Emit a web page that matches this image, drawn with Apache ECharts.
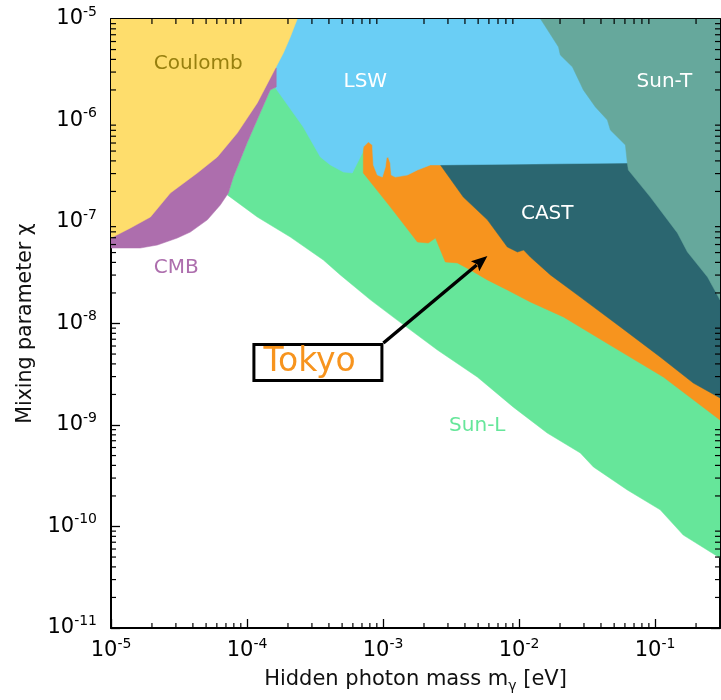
<!DOCTYPE html>
<html><head><meta charset="utf-8">
<script src="https://cdn.jsdelivr.net/npm/echarts@6/dist/echarts.min.js"></script>
<style>html,body{margin:0;padding:0;background:#fff}#c{width:721px;height:700px}</style>
</head><body><div id="c"></div>
<script>
// ---- Data: region boundaries as [hidden photon mass (eV), mixing parameter chi] ----
const sunL = [
  [7.16e-5,1.85e-7],[1.19e-4,1.12e-7],[2.08e-4,7.11e-8],[3.64e-4,4.22e-8],[4.85e-4,3.01e-8],
  [8.07e-4,1.71e-8],[1.27e-3,1.08e-8],[2.51e-3,5.48e-9],[4.93e-3,2.97e-9],[9.08e-3,1.50e-9],
  [1.61e-2,8.34e-10],[2.82e-2,5.30e-10],[3.52e-2,3.86e-10],[6.25e-2,2.29e-10],[1.09e-1,1.46e-10],
  [1.61e-1,8.24e-11],[0.3,4.9e-11],[0.3,1e-5],[1.64e-4,1e-5],[1.64e-4,2.14e-6],[1.48e-4,2.0e-6],
  [1.25e-4,1.19e-6],[1.0e-4,6.0e-7],[7.93e-5,2.77e-7],[7.29e-5,1.93e-7]
];
const tokyo = [
  [7.16e-4,6.43e-7],[7.16e-4,3.04e-7],[1.13e-3,1.41e-7],[1.79e-3,6.35e-8],[2.15e-3,6.21e-8],
  [2.43e-3,6.95e-8],[2.64e-3,5.30e-8],[2.87e-3,4.04e-8],[3.52e-3,3.95e-8],[4.39e-3,3.37e-8],
  [5.85e-3,2.69e-8],[8.20e-3,2.14e-8],[1.21e-2,1.63e-8],[2.12e-2,1.16e-8],[4.93e-2,5.86e-9],
  [1.15e-1,2.97e-9],[0.3,1.12e-9],[0.3,6.43e-7]
];
const cast = [
  [2.64e-3,3.9e-7],[2.64e-3,3.65e-7],[3.89e-3,1.76e-7],[5.85e-3,1.05e-7],[8.20e-3,5.67e-8],
  [9.73e-3,5.06e-8],[1.08e-2,5.30e-8],[1.21e-2,4.52e-8],[1.70e-2,3.01e-8],[2.82e-2,1.82e-8],
  [5.56e-2,9.24e-9],[1.09e-1,4.68e-9],[1.91e-1,2.59e-9],[0.3,1.85e-9],[0.3,3.9e-7]
];
const lsw = [
  [1.62e-4,1e-5],[0.3,1e-5],[0.3,3.81e-7],[6.25e-2,3.81e-7],[2.64e-3,3.65e-7],[2.23e-3,3.65e-7],
  [1.79e-3,3.25e-7],[1.51e-3,2.90e-7],[1.23e-3,2.77e-7],[1.15e-3,2.90e-7],[1.13e-3,3.81e-7],
  [1.09e-3,4.37e-7],[1.06e-3,4.27e-7],[1.04e-3,3.48e-7],[9.88e-4,2.77e-7],[9.08e-4,2.90e-7],
  [8.49e-4,3.65e-7],[8.34e-4,5.74e-7],[7.80e-4,6.14e-7],[7.16e-4,5.48e-7],[7.05e-4,4.79e-7],
  [6.47e-4,3.81e-7],[5.94e-4,3.04e-7],[5.11e-4,3.11e-7],[4.10e-4,3.65e-7],[3.46e-4,4.37e-7],
  [2.59e-4,8.63e-7],[1.62e-4,2.09e-6]
];
const sunT = [
  [1.44e-2,1e-5],[1.95e-2,5.30e-6],[2.01e-2,4.42e-6],[2.47e-2,3.37e-6],[2.97e-2,2.0e-6],
  [3.64e-2,1.36e-6],[4.46e-2,1.01e-6],[4.69e-2,8.06e-7],[6.05e-2,5.74e-7],[6.25e-2,3.81e-7],
  [6.36e-2,3.25e-7],[9.23e-2,1.76e-7],[1.46e-1,7.80e-8],[1.73e-1,5.06e-8],[2.43e-1,2.87e-8],
  [0.3,1.71e-8],[0.3,1e-5]
];
const cmb = [
  [1e-5,5.54e-8],[1.64e-5,5.54e-8],[2.19e-5,5.93e-8],[3.07e-5,6.95e-8],[3.83e-5,7.96e-8],
  [5.11e-5,1.05e-7],[6.36e-5,1.47e-7],[7.29e-5,1.93e-7],[7.93e-5,2.77e-7],[1.0e-4,6.0e-7],
  [1.25e-4,1.19e-6],[1.48e-4,2.0e-6],[1.64e-4,2.14e-6],[1.64e-4,3.29e-6],[1e-5,3.29e-6]
];
const coulomb = [
  [1e-5,1e-5],[2.34e-4,1e-5],[2.08e-4,6.65e-6],[1.85e-4,4.62e-6],[1.62e-4,3.29e-6],
  [1.19e-4,1.49e-6],[8.48e-5,7.53e-7],[6.05e-5,4.37e-7],[4.31e-5,3.04e-7],[2.73e-5,1.93e-7],
  [1.95e-5,1.12e-7],[1.39e-5,8.73e-8],[1e-5,6.95e-8]
];
const regionNames = ['Coulomb','LSW','Sun-T','CAST','CMB','Sun-L'];
const annotationText = 'Tokyo';
const minorMultipliers = [2,3,4,5,6,7,8,9];
const xDecades = [-5,-4,-3,-2,-1];
const yDecades = [-11,-10,-9,-8,-7,-6];

// ---- Layout / style (kept separate from data) ----
const FONT = 'DejaVu Sans';
const X_MIN = 1e-5, X_MAX = 0.3, Y_MIN = 1e-11, Y_MAX = 1e-5;
const COLORS = {
  sunL:'#66e69a', tokyo:'#f7941e', cast:'#2b6670', lsw:'#6acef5',
  sunT:'#66a89c', cmb:'#ad6ead', coulomb:'#fedd6c'
};
const labelPlacement = {
  'Coulomb':{at:[4.38e-5,3.60e-6], color:'#977f0e'},
  'LSW':{at:[7.41e-4,2.39e-6], color:'#ffffff'},
  'Sun-T':{at:[1.17e-1,2.39e-6], color:'#ffffff'},
  'CAST':{at:[1.61e-2,1.20e-7], color:'#ffffff'},
  'CMB':{at:[3.02e-5,3.52e-8], color:'#ad6ead'},
  'Sun-L':{at:[4.93e-3,9.77e-10], color:'#66e69a'}
};
const notePlacement = { boxCenter:[3.32e-4,4.13e-9], arrowTip:[5.85e-3,4.62e-8] };

function polygonSeries(name, pts, color) {
  return {
    type:'custom', name, silent:true, clip:true, coordinateSystem:'cartesian2d',
    data: pts, encode:{x:0, y:1},
    renderItem(params, api) {
      if (params.dataIndex !== 0) return null;
      return { type:'polygon', shape:{ points: pts.map(p => api.coord(p)) },
               style:{ fill:color, stroke:color, lineWidth:0.5 } };
    }
  };
}

const xMinor = [];
xDecades.forEach(d => minorMultipliers.forEach(k => { const v = k*Math.pow(10,d); if (v < X_MAX*0.999) xMinor.push(v); }));
const yMinor = [];
yDecades.forEach(d => minorMultipliers.forEach(k => yMinor.push(k*Math.pow(10,d))));

const supFmt = v => '{b|10}{e|' + Math.round(Math.log10(v)) + '}';
const richLab = {
  b:{fontSize:21, fontFamily:FONT, color:'#000', lineHeight:28},
  e:{fontSize:14, fontFamily:FONT, color:'#000', lineHeight:13, verticalAlign:'top'}
};
const axisCommon = {
  type:'log', logBase:10,
  axisLine:{show:true, onZero:false, lineStyle:{color:'#000', width:2}},
  axisTick:{show:true, inside:true, length:9, lineStyle:{color:'#000', width:1.3}},
  splitLine:{show:false}
};

const chart = echarts.init(document.getElementById('c'), null, {renderer:'canvas'});
const option = {
  animation:false,
  backgroundColor:'#fff',
  grid:{left:111, right:1, top:19, bottom:72, containLabel:false, outerBoundsMode:'none'},
  xAxis:[
    Object.assign({}, axisCommon, {
      min:X_MIN, max:X_MAX, position:'bottom',
      axisLabel:{formatter:supFmt, rich:richLab, margin:9, showMaxLabel:false},
      name:'{a|Hidden photon mass m}{s|γ}{a| [eV]}', nameLocation:'middle', nameGap:39,
      nameTextStyle:{rich:{
        a:{fontSize:21, fontFamily:FONT, color:'#111', lineHeight:26},
        s:{fontSize:14, fontFamily:FONT, color:'#111', lineHeight:12, verticalAlign:'bottom'}
      }}
    }),
    Object.assign({}, axisCommon, {min:X_MIN, max:X_MAX, position:'top', axisLabel:{show:false}})
  ],
  yAxis:[
    Object.assign({}, axisCommon, {
      min:Y_MIN, max:Y_MAX, position:'left',
      axisLabel:{formatter:supFmt, rich:richLab, margin:14},
      name:'Mixing parameter χ', nameLocation:'middle', nameGap:75, nameRotate:90,
      nameTextStyle:{fontSize:20.5, fontFamily:FONT, color:'#111'}
    }),
    Object.assign({}, axisCommon, {min:Y_MIN, max:Y_MAX, position:'right', axisLabel:{show:false}})
  ],
  series:[
    polygonSeries('Sun-L', sunL, COLORS.sunL),
    polygonSeries('Tokyo', tokyo, COLORS.tokyo),
    polygonSeries('CAST', cast, COLORS.cast),
    polygonSeries('LSW', lsw, COLORS.lsw),
    polygonSeries('Sun-T', sunT, COLORS.sunT),
    polygonSeries('CMB', cmb, COLORS.cmb),
    polygonSeries('Coulomb', coulomb, COLORS.coulomb),
    {
      type:'custom', name:'labels', silent:true, coordinateSystem:'cartesian2d',
      data: regionNames.map(n => labelPlacement[n].at),
      renderItem(params, api) {
        const n = regionNames[params.dataIndex];
        const p = api.coord([api.value(0), api.value(1)]);
        return { type:'text', x:p[0], y:p[1], style:{
          text:n, fill:labelPlacement[n].color, fontSize:20, fontFamily:FONT,
          align:'center', verticalAlign:'middle'} };
      }
    },
    {
      type:'custom', name:'note', silent:true, coordinateSystem:'cartesian2d',
      data:[notePlacement.boxCenter],
      renderItem(params, api) {
        const c = api.coord(notePlacement.boxCenter);
        const tip = api.coord(notePlacement.arrowTip);
        const w = 128, h = 36;
        const x0 = c[0]-w/2, y0 = c[1]-h/2;
        const start = [x0+w+1.5, y0-1.5];
        const dx = tip[0]-start[0], dy = tip[1]-start[1];
        const L = Math.sqrt(dx*dx+dy*dy), ux = dx/L, uy = dy/L;
        const hl = 16, hw = 6.5;
        const base = [tip[0]-ux*hl, tip[1]-uy*hl];
        return { type:'group', children:[
          { type:'line', shape:{x1:start[0], y1:start[1], x2:base[0]+ux*2, y2:base[1]+uy*2},
            style:{stroke:'#000', lineWidth:3.5} },
          { type:'polygon', shape:{points:[tip,[base[0]-uy*hw, base[1]+ux*hw],[base[0]+ux*3, base[1]+uy*3],[base[0]+uy*hw, base[1]-ux*hw]]},
            style:{fill:'#000'} },
          { type:'rect', shape:{x:x0, y:y0, width:w, height:h},
            style:{fill:'#fff', stroke:'#000', lineWidth:3} },
          { type:'text', x:x0+9.5, y:c[1], style:{text:annotationText, fill:COLORS.tokyo,
            fontSize:33, fontFamily:FONT, align:'left', verticalAlign:'middle'} }
        ]};
      }
    },
    {
      type:'custom', name:'xMinorTicks', silent:true, coordinateSystem:'cartesian2d',
      data: xMinor.map(v => [v, Y_MIN]),
      renderItem(params, api) {
        const v = api.value(0);
        const b = api.coord([v, Y_MIN]), t = api.coord([v, Y_MAX]);
        return { type:'group', children:[
          {type:'line', shape:{x1:b[0], y1:b[1], x2:b[0], y2:b[1]-5}, style:{stroke:'#000', lineWidth:1.2}},
          {type:'line', shape:{x1:t[0], y1:t[1], x2:t[0], y2:t[1]+5}, style:{stroke:'#000', lineWidth:1.2}}
        ]};
      }
    },
    {
      type:'custom', name:'yMinorTicks', silent:true, coordinateSystem:'cartesian2d',
      data: yMinor.map(v => [X_MIN, v]),
      renderItem(params, api) {
        const v = api.value(1);
        const l = api.coord([X_MIN, v]), r = api.coord([X_MAX, v]);
        return { type:'group', children:[
          {type:'line', shape:{x1:l[0], y1:l[1], x2:l[0]+5, y2:l[1]}, style:{stroke:'#000', lineWidth:1.2}},
          {type:'line', shape:{x1:r[0], y1:r[1], x2:r[0]-5, y2:r[1]}, style:{stroke:'#000', lineWidth:1.2}}
        ]};
      }
    }
  ]
};
chart.setOption(option);
</script>
</body></html>
